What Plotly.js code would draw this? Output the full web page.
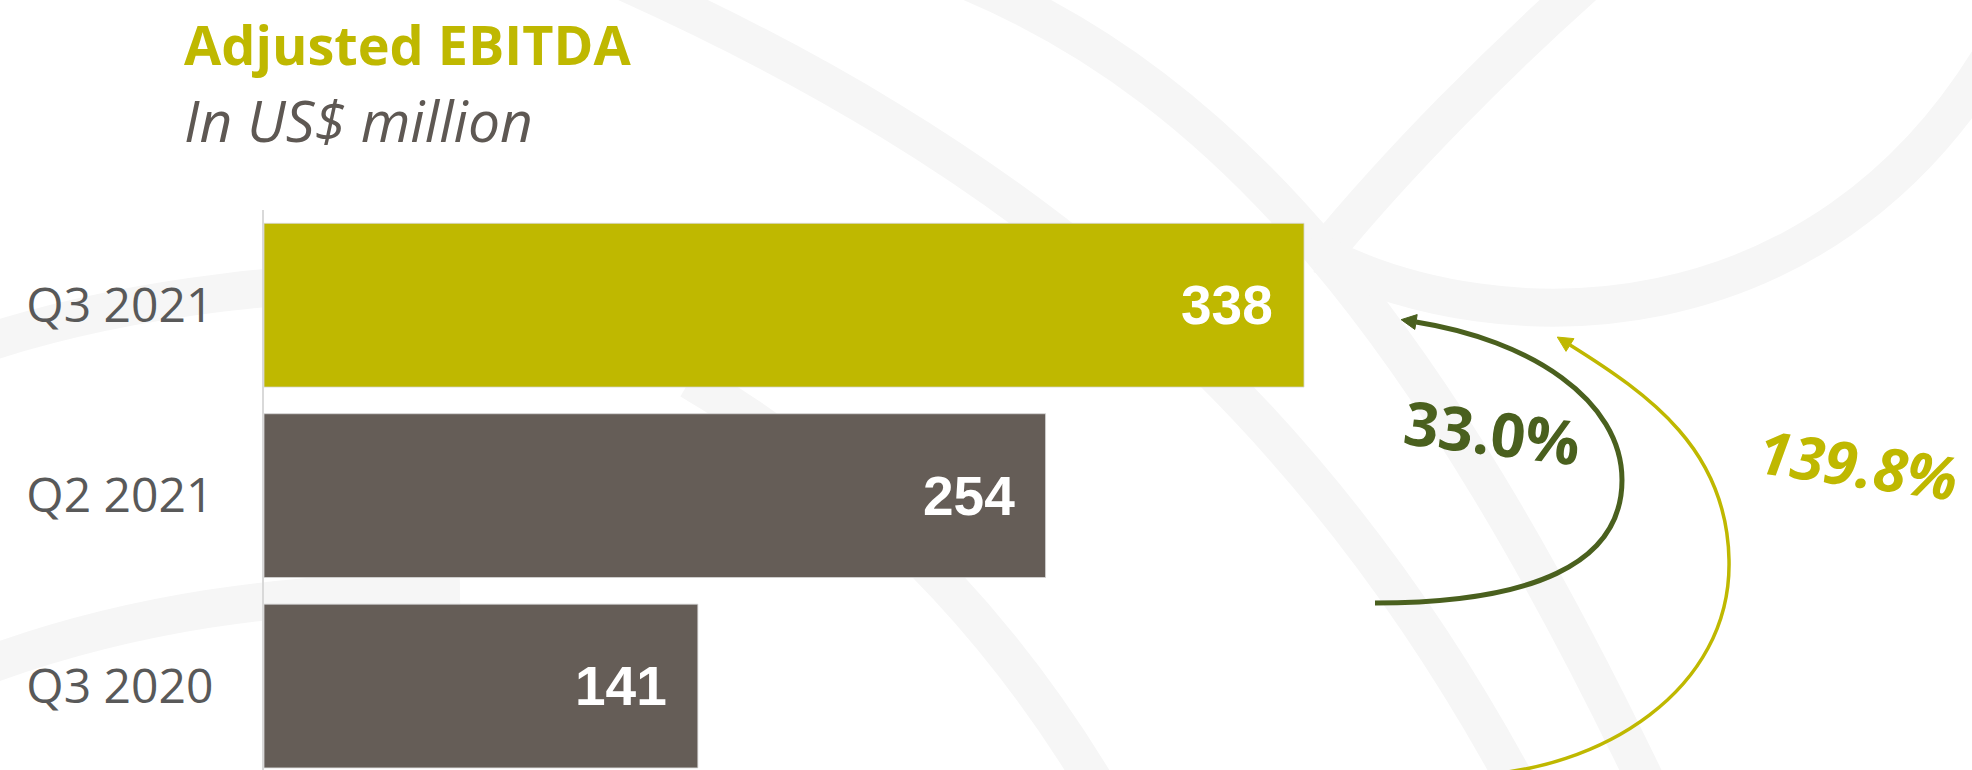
<!DOCTYPE html>
<html>
<head>
<meta charset="utf-8">
<script src="https://cdn.plot.ly/plotly-3.0.1.min.js"></script>
<style>
html,body{margin:0;padding:0;background:#ffffff;}
#chart{width:1972px;height:770px;}
</style>
</head>
<body>
<div id="chart"></div>
<script>
// ---- data ----
const categories = ['Q3 2021', 'Q2 2021', 'Q3 2020'];
const values = [338, 254, 141];
const barColors = ['#bfb800', '#655d57', '#655d57'];
const growthLabels = ['33.0%', '139.8%'];
const titleText = 'Adjusted EBITDA';
const subtitleText = 'In US$ million';

// ---- layout geometry (pixels) ----
const W = 1972, H = 770, L = 264, T = 210, R = 0, B = 0;
const PW = W - L - R, PH = H - T - B;
const PX_PER_UNIT = 3.077;
const xMax = PW / PX_PER_UNIT;

function px(x) { return (x - L) / PW; }
function py(y) { return (H - B - y) / PH; }
function P(p) { return px(p[0]).toFixed(5) + ' ' + py(p[1]).toFixed(5); }

function cubicPath(segs) {
  let d = 'M ' + P(segs[0]);
  for (let i = 1; i < segs.length; i += 3) {
    d += ' C ' + P(segs[i]) + ' ' + P(segs[i + 1]) + ' ' + P(segs[i + 2]);
  }
  return d;
}
function arrowHead(end, ctrl, len, hw) {
  const dx = end[0] - ctrl[0], dy = end[1] - ctrl[1];
  const n = Math.hypot(dx, dy), ux = dx / n, uy = dy / n;
  const tip = [end[0] + ux * len, end[1] + uy * len];
  const b1 = [end[0] - uy * hw, end[1] + ux * hw];
  const b2 = [end[0] + uy * hw, end[1] - ux * hw];
  return 'M ' + P(tip) + ' L ' + P(b1) + ' L ' + P(b2) + ' Z';
}

// ---- decorative watermark bands (background arcs) ----
const bandColor = '#f6f6f6';
const bands = [
  [[620, -20], [1000, 150], [1300, 380], [1520, 790]],
  [[965, -20], [1230, 90], [1430, 330], [1650, 790]],
  [[1590, -20], [1500, 60], [1400, 160], [1322, 255]],
  [[1322, 255], [1500, 345], [1820, 345], [1995, 50]],
  [[-20, 345], [130, 295], [300, 278], [520, 276]],
  [[-20, 668], [130, 612], [280, 592], [460, 590]],
  [[690, 380], [860, 480], [1000, 620], [1105, 800]]
];
const shapes = bands.map(b => ({
  type: 'path', xref: 'paper', yref: 'paper', layer: 'below',
  path: cubicPath(b), line: {color: bandColor, width: 38}
}));

// ---- growth arrows ----
const greenColor = '#4a601e';
const yellowColor = '#bfb800';
const greenSegs = [[1375, 603], [1530, 603], [1622, 565], [1622, 480], [1622, 400], [1530, 340], [1416, 322]];
const yellowSegs = [[1470, 775], [1600, 772], [1732, 690], [1729, 560], [1727, 450], [1650, 395], [1570, 345]];
shapes.push({type: 'path', xref: 'paper', yref: 'paper', layer: 'above',
  path: cubicPath(greenSegs), line: {color: greenColor, width: 5}});
shapes.push({type: 'path', xref: 'paper', yref: 'paper', layer: 'above',
  path: arrowHead(greenSegs[6], greenSegs[5], 15, 7.5), fillcolor: greenColor, line: {color: greenColor, width: 1}});
shapes.push({type: 'path', xref: 'paper', yref: 'paper', layer: 'above',
  path: cubicPath(yellowSegs), line: {color: yellowColor, width: 3.5}});
shapes.push({type: 'path', xref: 'paper', yref: 'paper', layer: 'above',
  path: arrowHead(yellowSegs[6], yellowSegs[5], 15, 7.5), fillcolor: yellowColor, line: {color: yellowColor, width: 1}});

// ---- annotations ----
const annotations = [];
annotations.push({
  xref: 'paper', yref: 'paper', x: px(182), y: py(44), xanchor: 'left', yanchor: 'middle',
  text: titleText, showarrow: false,
  font: {family: 'Open Sans, sans-serif', size: 54, color: '#bfb800', weight: 'bold'}
});
annotations.push({
  xref: 'paper', yref: 'paper', x: px(182), y: py(120), xanchor: 'left', yanchor: 'middle',
  text: subtitleText, showarrow: false,
  font: {family: 'Open Sans, sans-serif', size: 57, color: '#5e5853', style: 'italic'}
});
categories.forEach((c, i) => {
  annotations.push({
    xref: 'x', yref: 'y', x: values[i], y: c, xanchor: 'right', yanchor: 'middle',
    xshift: -29, text: String(values[i]), showarrow: false,
    font: {family: 'Liberation Sans, Arial, sans-serif', size: 55, color: '#ffffff', weight: 'bold'}
  });
});
annotations.push({
  xref: 'paper', yref: 'paper', x: px(1492), y: py(431), xanchor: 'center', yanchor: 'middle',
  text: growthLabels[0], textangle: 7, showarrow: false,
  font: {family: 'Open Sans, sans-serif', size: 61, color: greenColor, weight: 'bold'}
});
annotations.push({
  xref: 'paper', yref: 'paper', x: px(1858), y: py(464), xanchor: 'center', yanchor: 'middle',
  text: growthLabels[1], textangle: 8, showarrow: false,
  font: {family: 'Open Sans, sans-serif', size: 60, color: yellowColor, weight: 'bold', style: 'italic'}
});

// ---- chart ----
const trace = {
  type: 'bar', orientation: 'h',
  y: categories, x: values,
  marker: {color: barColors, line: {color: 'rgba(215,215,215,0.8)', width: 1}},
  hoverinfo: 'none'
};

const layout = {
  width: W, height: H,
  margin: {l: L, r: R, t: T, b: B, pad: 0},
  paper_bgcolor: '#ffffff', plot_bgcolor: 'rgba(0,0,0,0)',
  showlegend: false,
  bargap: 0.14,
  xaxis: {range: [0, xMax], visible: false, fixedrange: true},
  yaxis: {
    type: 'category', categoryorder: 'array', categoryarray: categories,
    range: [2.441, -0.5],
    showline: true, linecolor: '#d9d9d9', linewidth: 2,
    showgrid: false, zeroline: false, ticks: '',
    ticklabelstandoff: 39,
    tickfont: {family: 'Open Sans, sans-serif', size: 48, color: '#595959'},
    fixedrange: true
  },
  shapes: shapes,
  annotations: annotations
};

Plotly.newPlot('chart', [trace], layout, {displayModeBar: false, staticPlot: true});
</script>
</body>
</html>
